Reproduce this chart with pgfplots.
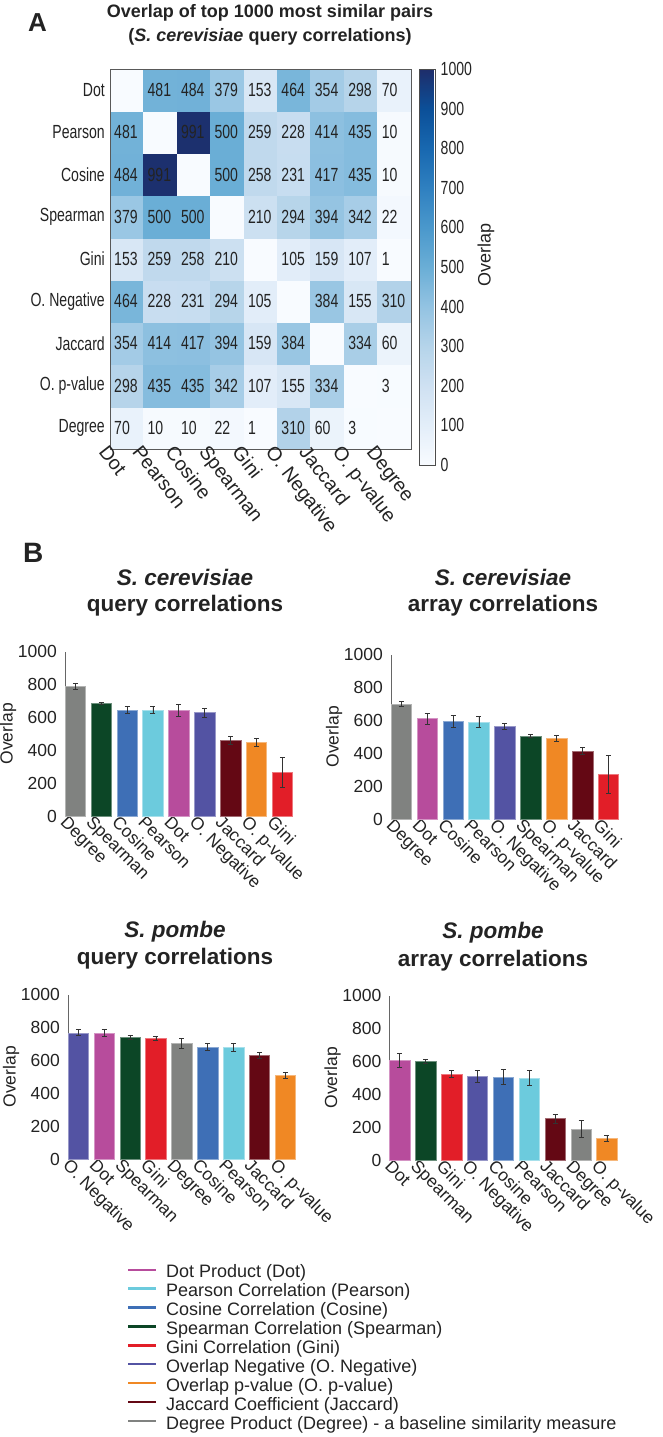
\documentclass[border=0pt]{standalone}
\usepackage{pgfplots}
\usepackage{pgfplotstable}
\pgfplotsset{compat=1.18}
\usepackage{fontspec}
\setmainfont{Liberation Sans}
\newfontfamily\nf[FakeStretch=0.74]{Liberation Sans}
\newcommand\fs[1]{\fontsize{#1}{#1}\selectfont}
\definecolor{cDot}{RGB}{183,76,156}
\definecolor{cPea}{RGB}{108,203,221}
\definecolor{cCos}{RGB}{62,111,182}
\definecolor{cSpe}{RGB}{12,70,38}
\definecolor{cGin}{RGB}{226,30,40}
\definecolor{cNeg}{RGB}{83,83,163}
\definecolor{cPva}{RGB}{240,136,36}
\definecolor{cJac}{RGB}{100,8,20}
\definecolor{cDeg}{RGB}{128,130,128}
\definecolor{txt}{RGB}{35,35,35}
\pgfplotsset{every axis/.append style={/pgf/number format/assume math mode=true,/pgf/number format/1000 sep={}}}
\pgfplotsset{
 barax/.style={scale only axis, width=230.4pt, height=164.5pt, xmin=-0.396, xmax=8.5,
   ymin=0, ymax=1000, ytick={0,200,...,1000}, axis lines*=left,
   x axis line style={draw=none}, y axis line style={draw=gray!80!black, line width=0.8pt},
   major tick length=0pt, xtick={0,...,8}, ybar, bar width=20.5pt, bar shift=0pt,
   ticklabel style={font=\fs{17.5}, text=txt},
   yticklabel style={inner sep=0pt, xshift=-8pt},
   xticklabel style={rotate=-45, anchor=north west, inner sep=0pt, xshift=-6pt, yshift=-4pt},
   ylabel=Overlap,
   every axis y label/.style={at={(axis description cs:-0.247,0.5)}, rotate=90, anchor=center, font=\fs{17.5}, text=txt},
   error bars/y dir=both, error bars/y explicit,
   error bars/error bar style={line width=0.8pt, black!80},
   error bars/error mark options={rotate=90, mark size=2.5pt, line width=0.8pt, black!80},
   clip=false},
 bb/.style={fill=#1, draw=#1!60!white, line width=0.6pt},
}
\pgfplotstableread{
x y c t
0 0 70 70
1 0 10 10
2 0 10 10
3 0 22 22
4 0 1 1
5 0 310 310
6 0 60 60
7 0 3 3
8 0 0 {}
0 1 298 298
1 1 435 435
2 1 435 435
3 1 342 342
4 1 107 107
5 1 155 155
6 1 334 334
7 1 0 {}
8 1 3 3
0 2 354 354
1 2 414 414
2 2 417 417
3 2 394 394
4 2 159 159
5 2 384 384
6 2 0 {}
7 2 334 334
8 2 60 60
0 3 464 464
1 3 228 228
2 3 231 231
3 3 294 294
4 3 105 105
5 3 0 {}
6 3 384 384
7 3 155 155
8 3 310 310
0 4 153 153
1 4 259 259
2 4 258 258
3 4 210 210
4 4 0 {}
5 4 105 105
6 4 159 159
7 4 107 107
8 4 1 1
0 5 379 379
1 5 500 500
2 5 500 500
3 5 0 {}
4 5 210 210
5 5 294 294
6 5 394 394
7 5 342 342
8 5 22 22
0 6 484 484
1 6 991 991
2 6 0 {}
3 6 500 500
4 6 258 258
5 6 231 231
6 6 417 417
7 6 435 435
8 6 10 10
0 7 481 481
1 7 0 {}
2 7 991 991
3 7 500 500
4 7 259 259
5 7 228 228
6 7 414 414
7 7 435 435
8 7 10 10
0 8 0 {}
1 8 481 481
2 8 484 484
3 8 379 379
4 8 153 153
5 8 464 464
6 8 354 354
7 8 298 298
8 8 70 70
}\hm
\begin{document}
\begin{tikzpicture}
\path[use as bounding box] (0,0) rectangle (662pt,-1437pt);
% titles and panel letters
\node[anchor=base west, inner sep=0pt, font=\bfseries\fs{26}, text=txt] at (28pt,-32pt) {A};
\node[anchor=base, inner sep=0pt, font=\bfseries\fs{18}, text=txt] at (270pt,-18pt) {Overlap of top 1000 most similar pairs};
\node[anchor=base, inner sep=0pt, font=\bfseries\fs{18}, text=txt] at (270pt,-42pt) {(\textit{S. cerevisiae} query correlations)};
\node[anchor=base west, inner sep=0pt, font=\bfseries\fs{28}, text=txt] at (23pt,-562pt) {B};
\node[anchor=base, inner sep=0pt, font=\bfseries\itshape\fs{22.5}, text=txt] at (185pt,-585pt) {S. cerevisiae};
\node[anchor=base, inner sep=0pt, font=\bfseries\fs{22.5}, text=txt] at (185pt,-611pt) {query correlations};
\node[anchor=base, inner sep=0pt, font=\bfseries\itshape\fs{22.5}, text=txt] at (503pt,-585pt) {S. cerevisiae};
\node[anchor=base, inner sep=0pt, font=\bfseries\fs{22.5}, text=txt] at (503pt,-611pt) {array correlations};
\node[anchor=base, inner sep=0pt, font=\bfseries\itshape\fs{22.5}, text=txt] at (175pt,-937pt) {S. pombe};
\node[anchor=base, inner sep=0pt, font=\bfseries\fs{22.5}, text=txt] at (175pt,-964pt) {query correlations};
\node[anchor=base, inner sep=0pt, font=\bfseries\itshape\fs{22.5}, text=txt] at (493pt,-938pt) {S. pombe};
\node[anchor=base, inner sep=0pt, font=\bfseries\fs{22.5}, text=txt] at (493pt,-966pt) {array correlations};

% heatmap
\begin{axis}[at={(110pt,-449pt)}, anchor=south west, scale only axis, width=301pt, height=380pt,
  xmin=-0.5, xmax=8.5, ymin=-0.5, ymax=8.5, enlargelimits=false, axis on top,
  xtick={0,...,8}, ytick={0,...,8},
  xticklabels={Dot,Pearson,Cosine,Spearman,Gini,O. Negative,Jaccard,O. p-value,Degree},
  yticklabels={Degree,O. p-value,Jaccard,O. Negative,Gini,Spearman,Cosine,Pearson,Dot},
  major tick length=0pt,
  yticklabel style={font=\nf\fs{19}, text=txt, inner sep=0pt, xshift=-5pt},
  xticklabel style={font=\fs{19.5}, text=txt, rotate=-52, anchor=north west, inner sep=0pt, xshift=-15pt, yshift=-11pt},
  axis line style={draw=gray!70!black, line width=0.8pt},
  colormap={hm}{rgb255=(248,251,255) rgb255=(227,238,249) rgb255=(207,225,242) rgb255=(181,212,234) rgb255=(147,195,226) rgb255=(106,174,214) rgb255=(74,152,204) rgb255=(47,128,192) rgb255=(24,104,176) rgb255=(11,79,152) rgb255=(30,45,106)},
  point meta min=0, point meta max=1000,
  colorbar,
  colorbar style={at={([xshift=16pt,yshift=9pt]parent axis.north east)}, anchor=north west,
    scale only axis, width=16pt, height=396pt, ytick={0,100,...,1000}, major tick length=0pt,
    yticklabel style={font=\nf\fs{19}, text=txt, inner sep=0pt, xshift=5pt},
    axis line style={draw=gray!60!black, line width=0.6pt},
    ylabel=Overlap,
    every axis y label/.style={at={(axis description cs:4.15,0.53)}, rotate=90, anchor=center, font=\fs{18}, text=txt}},
]
\addplot[matrix plot*, mesh/cols=9, point meta=explicit] table[x=x, y=y, meta=c] {\hm};
\addplot[draw=none, mark=none, nodes near coords, point meta=explicit symbolic,
  nodes near coords align=center,
  every node near coord/.append style={anchor=west, xshift=-12.7pt, inner sep=0pt, font=\nf\fs{19}, text=txt}]
  table[x=x, y=y, meta=t] {\hm};
\end{axis}

% bar chart 1
\begin{axis}[barax, at={(65pt,-816pt)}, anchor=south west,
  xticklabels={Degree,Spearman,Cosine,Pearson,Dot,O. Negative,Jaccard,O. p-value,Gini}]
\addplot[bb=cDeg] coordinates {(0,787) +- (0,20)};
\addplot[bb=cSpe] coordinates {(1,684) +- (0,8)};
\addplot[bb=cCos] coordinates {(2,645) +- (0,23)};
\addplot[bb=cPea] coordinates {(3,643) +- (0,22)};
\addplot[bb=cDot] coordinates {(4,641) +- (0,35)};
\addplot[bb=cNeg] coordinates {(5,629) +- (0,27)};
\addplot[bb=cJac] coordinates {(6,460) +- (0,22)};
\addplot[bb=cPva] coordinates {(7,448) +- (0,22)};
\addplot[bb=cGin] coordinates {(8,264) +- (0,92)};
\end{axis}

% bar chart 2
\begin{axis}[barax, at={(391pt,-819pt)}, anchor=south west,
  xticklabels={Degree,Dot,Cosine,Pearson,O. Negative,Spearman,O. p-value,Jaccard,Gini}]
\addplot[bb=cDeg] coordinates {(0,699) +- (0,17)};
\addplot[bb=cDot] coordinates {(1,610) +- (0,34)};
\addplot[bb=cCos] coordinates {(2,594) +- (0,35)};
\addplot[bb=cPea] coordinates {(3,590) +- (0,36)};
\addplot[bb=cNeg] coordinates {(4,562) +- (0,18)};
\addplot[bb=cSpe] coordinates {(5,503) +- (0,9)};
\addplot[bb=cPva] coordinates {(6,489) +- (0,19)};
\addplot[bb=cJac] coordinates {(7,414) +- (0,22)};
\addplot[bb=cGin] coordinates {(8,269) +- (0,115)};
\end{axis}

% bar chart 3
\begin{axis}[barax, at={(68pt,-1159pt)}, anchor=south west,
  xticklabels={O. Negative,Dot,Spearman,Gini,Degree,Cosine,Pearson,Jaccard,O. p-value}]
\addplot[bb=cNeg] coordinates {(0,767) +- (0,18)};
\addplot[bb=cDot] coordinates {(1,767) +- (0,22)};
\addplot[bb=cSpe] coordinates {(2,741) +- (0,13)};
\addplot[bb=cGin] coordinates {(3,733) +- (0,11)};
\addplot[bb=cDeg] coordinates {(4,702) +- (0,29)};
\addplot[bb=cCos] coordinates {(5,680) +- (0,21)};
\addplot[bb=cPea] coordinates {(6,678) +- (0,26)};
\addplot[bb=cJac] coordinates {(7,629) +- (0,20)};
\addplot[bb=cPva] coordinates {(8,508) +- (0,16)};
\end{axis}

% bar chart 4
\begin{axis}[barax, at={(389.5pt,-1160pt)}, anchor=south west,
  xticklabels={Dot,Spearman,Gini,O. Negative,Cosine,Pearson,Jaccard,Degree,O. p-value}]
\addplot[bb=cDot] coordinates {(0,608) +- (0,42)};
\addplot[bb=cSpe] coordinates {(1,598) +- (0,12)};
\addplot[bb=cGin] coordinates {(2,523) +- (0,19)};
\addplot[bb=cNeg] coordinates {(3,509) +- (0,35)};
\addplot[bb=cCos] coordinates {(4,503) +- (0,45)};
\addplot[bb=cPea] coordinates {(5,499) +- (0,43)};
\addplot[bb=cJac] coordinates {(6,251) +- (0,28)};
\addplot[bb=cDeg] coordinates {(7,188) +- (0,50)};
\addplot[bb=cPva] coordinates {(8,133) +- (0,18)};
\end{axis}

% legend
\begin{axis}[at={(127pt,-1264.8pt)}, anchor=north west, hide axis, scale only axis,
  width=10pt, height=10pt, xmin=0, xmax=1, ymin=0, ymax=1,
  legend cell align=left,
  legend image code/.code={\draw[#1, line width=2.4pt] (0pt,4.5pt) -- (28pt,4.5pt); \path[draw=none, fill=none] (0pt,0pt) -- (38pt,0pt);},
  legend style={at={(0,1)}, anchor=north west, draw=none, fill=none, inner sep=0pt, outer sep=0pt,
    font=\fs{18}, text=txt, row sep=0pt, column sep=0pt,
    nodes={inner sep=0pt, text height=13pt, text depth=5.9pt}}]
\addlegendimage{color=cDot}\addlegendentry{Dot Product (Dot)}
\addlegendimage{color=cPea}\addlegendentry{Pearson Correlation (Pearson)}
\addlegendimage{color=cCos}\addlegendentry{Cosine Correlation (Cosine)}
\addlegendimage{color=cSpe}\addlegendentry{Spearman Correlation (Spearman)}
\addlegendimage{color=cGin}\addlegendentry{Gini Correlation (Gini)}
\addlegendimage{color=cNeg}\addlegendentry{Overlap Negative (O. Negative)}
\addlegendimage{color=cPva}\addlegendentry{Overlap p-value (O. p-value)}
\addlegendimage{color=cJac}\addlegendentry{Jaccard Coefficient (Jaccard)}
\addlegendimage{color=cDeg}\addlegendentry{Degree Product (Degree) - a baseline similarity measure}
\end{axis}
\end{tikzpicture}
\end{document}
